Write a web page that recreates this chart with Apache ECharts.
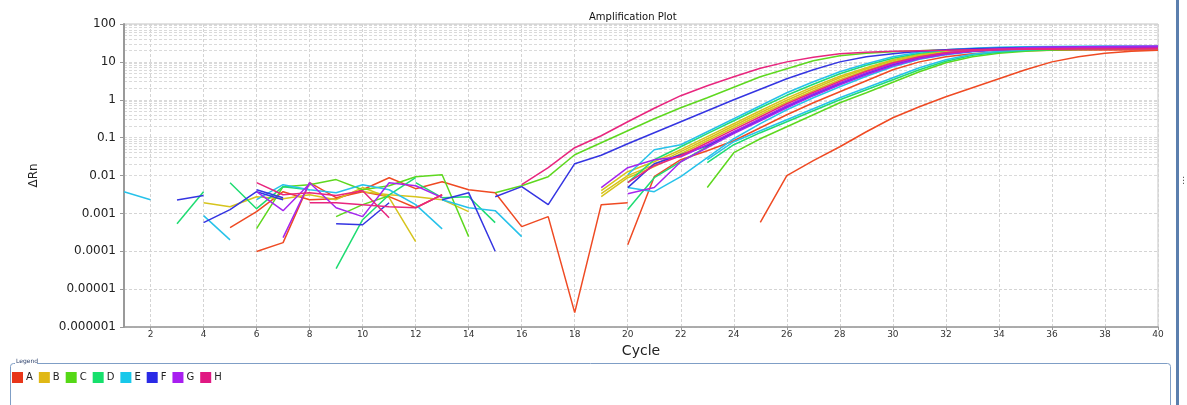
<!DOCTYPE html>
<html>
<head>
<meta charset="utf-8">
<script src="https://cdn.jsdelivr.net/npm/echarts@6/dist/echarts.min.js"></script>
<style>
html,body{margin:0;padding:0;background:#fff;}
#chart{width:1187px;height:405px;}
</style>
</head>
<body>
<div id="chart"></div>
<script>
// ---------- categories / tick labels ----------
const cycles = ['1','2','3','4','5','6','7','8','9','10','11','12','13','14','15','16','17','18','19','20',
                '21','22','23','24','25','26','27','28','29','30','31','32','33','34','35','36','37','38','39','40'];
const yTickLabels = ['0.000001','0.00001','0.0001','0.001','0.01','0.1','1','10','100'];
const wellNames = ['A','B','C','D','E','F','G','H'];

// ---------- series values (each fragment: first cycle + dRn values) ----------
// A (red)
const A_1 = {start:5,  values:[0.00042,0.00111,0.00374,0.0023,0.00244,0.0042,0.00875,0.00449,0.00686,0.0042,0.00352,0.000446,0.00082,0.0000024,0.0017,0.00191]};
const A_2 = {start:6,  values:[0.000098,0.000169,0.00645,0.0026,0.00374,0.00276,0.00141,0.00311]};
const A_3 = {start:20, values:[0.000149,0.0093,0.0261,0.0451,0.0828,0.182,0.402,0.834,1.63,3.17,6.2,10.0,13.6,16.4,18.5,19.6,20.2,20.5,20.7,20.7,20.7]};
const A_4 = {start:25, values:[0.00058,0.0099,0.0246,0.0575,0.143,0.335,0.654,1.2,2.07,3.58,6.2,10.0,13.6,16.9,19.0,20.2]};
// B (yellow)
const B_1 = {start:4,  values:[0.00191,0.0015,0.00276,0.00244,0.0031,0.0023,0.0048,0.0026,0.000179]};
const B_2 = {start:10, values:[0.00374,0.0031,0.00276,0.0023,0.00111]};
const B_3 = {start:19, values:[0.00397,0.0126,0.0231,0.048,0.106,0.233,0.513,1.1,2.2,4.17,6.99,11.4,15.9,19.0,20.9,22.2,22.8,23.1,23.3,23.4,23.6,23.6]};
const B_4 = {start:19, values:[0.0033,0.0099,0.0193,0.0425,0.0935,0.206,0.454,0.97,1.95,3.81,6.58,10.7,14.9,18.5,20.2,21.5,22.2,22.4,22.6,22.7,22.8,22.8]};
const B_5 = {start:19, values:[0.00276,0.00875,0.0171,0.0376,0.0828,0.182,0.402,0.859,1.73,3.37,6.0,10.0,14.5,17.9,19.6,20.9,21.5,21.9,22.2,22.2,22.2,22.2]};
// C (lime green)
const C_1 = {start:15, values:[0.00352,0.00538,0.0093,0.0354,0.0734,0.152,0.315,0.615,1.13,2.14,4.04,6.58,10.7,14.5,16.9,18.5,19.6,20.9,21.5,22.2,22.7,22.9,23.3,23.4,23.6,23.6]};
const C_2 = {start:6,  values:[0.000394,0.00507,0.00571,0.0078,0.0042,0.00538,0.0093,0.0105,0.000243]};
const C_3 = {start:9,  values:[0.00082,0.0017,0.00293]};
const C_4 = {start:23, values:[0.0048,0.04,0.0935,0.194,0.402,0.834,1.53,2.9,5.48,9.46,13.6,16.9,19.0,20.5,21.2,21.7,22.2,22.2]};
// D (spring green)
const D_1 = {start:3,  values:[0.000535,0.00374]};
const D_2 = {start:5,  values:[0.00646,0.00133,0.00507,0.0042]};
const D_3 = {start:9,  values:[0.0000347,0.00068,0.0031,0.00875]};
const D_4 = {start:12, values:[0.00646,0.0026,0.00276,0.00057]};
const D_5 = {start:20, values:[0.00646,0.0261,0.0575,0.127,0.279,0.615,1.31,2.56,4.85,8.13,12.4,16.9,20.2,22.2,23.6,24.3,24.6,24.7,24.9,25.0,25.0]};
const D_6 = {start:20, values:[0.00126,0.00875,0.0231,0.0575,0.135,0.297,0.654,1.31,2.56,4.71,8.13,12.4,16.4,19.0,20.9,21.9,22.6,22.9,23.3,23.6,23.6]};
const D_7 = {start:23, values:[0.0218,0.065,0.135,0.263,0.513,1.0,1.84,3.37,6.2,10.4,14.9,17.9,19.9,21.1,22.2,22.8,23.3,23.6]};
// E (cyan)
const E_1 = {start:1,  values:[0.00374,0.0023]};
const E_2 = {start:4,  values:[0.00087,0.0002]};
const E_3 = {start:6,  values:[0.0023,0.00571,0.0042,0.00352,0.00571,0.0042,0.0017,0.00039]};
const E_4 = {start:13, values:[0.0023,0.00141,0.00118,0.000243]};
const E_5 = {start:20, values:[0.0105,0.048,0.065,0.143,0.315,0.695,1.53,2.99,5.48,8.91,13.6,17.9,20.9,22.8,24.3,25.0,25.5,25.8,26.1,26.3,26.3]};
const E_6 = {start:20, values:[0.0048,0.00374,0.0093,0.0295,0.0935,0.233,0.545,1.13,2.2,4.17,7.43,11.7,15.4,18.5,20.5,21.7,22.7,23.3,23.6,23.8,24.2]};
const E_7 = {start:23, values:[0.0261,0.078,0.152,0.297,0.579,1.13,2.07,3.81,6.99,11.4,15.9,19.0,20.9,22.2,23.1,23.8,24.3,24.6]};
// F (blue)
const F_1 = {start:3,  values:[0.00227,0.00296]};
const F_2 = {start:4,  values:[0.00057,0.00126,0.00374,0.0023]};
const F_3 = {start:6,  values:[0.0042,0.0026]};
const F_4 = {start:9,  values:[0.000535,0.0005,0.00191]};
const F_5 = {start:13, values:[0.0023,0.00352,0.0001]};
const F_6 = {start:15, values:[0.00276,0.00507,0.0017,0.0205,0.0343,0.069,0.135,0.263,0.513,1.0,1.89,3.58,6.2,10.0,13.6,16.4,19.0,20.9,22.2,23.1,23.8,24.3,24.6,24.9,25.0,25.0]};
const F_7 = {start:20, values:[0.0048,0.0205,0.0354,0.0611,0.135,0.297,0.654,1.36,2.64,4.85,8.38,12.8,16.4,19.0,20.9,22.2,22.8,23.3,23.6,23.8,24.0]};
// G (purple)
const G_1 = {start:7,  values:[0.000229,0.00646,0.00141,0.00082,0.00646,0.00538,0.0026]};
const G_2 = {start:6,  values:[0.00374,0.00118,0.00608]};
const G_3 = {start:19, values:[0.0048,0.0161,0.0261,0.0313,0.065,0.143,0.315,0.695,1.44,2.81,5.15,8.91,13.2,17.4,20.2,22.2,23.6,24.6,25.0,25.5,25.8,26.1]};
const G_4 = {start:20, values:[0.0033,0.0048,0.0231,0.0542,0.127,0.279,0.615,1.28,2.49,4.57,7.89,12.1,15.9,19.0,20.9,22.2,23.1,23.8,24.3,24.6,24.7]};
// H (pink)
const H_1 = {start:6,  values:[0.00646,0.0031,0.00352,0.00296,0.00397,0.00077]};
const H_2 = {start:8,  values:[0.00191,0.00191,0.0017,0.0015,0.00141,0.0031]};
const H_3 = {start:16, values:[0.00571,0.0161,0.0542,0.112,0.263,0.597,1.28,2.34,4.04,6.78,10.0,13.2,16.4,17.9,19.0,19.6,20.2,20.9,21.5,21.9,22.2,22.4,22.6,22.7,22.8]};
const H_4 = {start:20, values:[0.00646,0.0181,0.0333,0.0734,0.162,0.356,0.784,1.58,3.08,5.65,9.46,13.6,17.4,19.6,20.9,21.5,21.7,21.9,21.9,21.9,21.9]};

const wellFragments = {
  A:[A_1,A_2,A_3,A_4], B:[B_1,B_2,B_3,B_4,B_5], C:[C_1,C_2,C_3,C_4], D:[D_1,D_2,D_3,D_4,D_5,D_6,D_7],
  E:[E_1,E_2,E_3,E_4,E_5,E_6,E_7], F:[F_1,F_2,F_3,F_4,F_5,F_6,F_7], G:[G_1,G_2,G_3,G_4], H:[H_1,H_2,H_3,H_4]
};

// ---------- styles ----------
const lineColors = {A:'#ef4a23',B:'#d6c41d',C:'#5ed81f',D:'#1fdc72',E:'#27c2ea',F:'#3535e2',G:'#a526ee',H:'#e8267e'};
const legendColors = {A:'#e8361a',B:'#e0b816',C:'#55d816',D:'#16e06c',E:'#18c8ea',F:'#2a2ae6',G:'#a81ef0',H:'#e01882'};
const FONT = 'DejaVu Sans';

// gridline values (log sub-divisions)
const gridY = [];
for (let e = -6; e <= 1; e++) {
  for (let k = 1; k <= 9; k++) {
    if (e === -6 && k === 1) continue;
    gridY.push({yAxis: k * Math.pow(10, e)});
  }
}

const series = [];
series.push({
  type:'line', name:'__grid', data:[], silent:true, z:0,
  markLine:{
    silent:true, symbol:['none','none'], animation:false, z:0,
    label:{show:false},
    emphasis:{disabled:true},
    lineStyle:{color:'#dadada', type:[3,2], width:1},
    data: gridY
  }
});
wellNames.forEach(w => {
  wellFragments[w].forEach(frag => {
    series.push({
      type:'line', name:w, z:10,
      showSymbol:false, symbol:'none',
      connectNulls:false,
      lineStyle:{width:1.5, color:lineColors[w]},
      itemStyle:{color:legendColors[w]},
      emphasis:{disabled:true},
      data: frag.values.map((v,i) => [frag.start - 1 + i, v])
    });
  });
});

const chart = echarts.init(document.getElementById('chart'), null, {renderer:'canvas'});
chart.setOption({
  animation:false,
  backgroundColor:'#ffffff',
  title:{
    text:'Amplification Plot', left:584, top:7,
    textStyle:{fontFamily:FONT, fontSize:10, fontWeight:'normal', color:'#111'}
  },
  grid:{left:124, right:29, top:24, bottom:78, show:true, borderColor:'#c4c4c4', borderWidth:1},
  legend:{
    data: wellNames.map(w => ({name:w, itemStyle:{color:legendColors[w]}})),
    left:12, top:372, padding:0, itemWidth:11, itemHeight:11, itemGap:6, icon:'rect',
    textStyle:{fontFamily:FONT, fontSize:10, color:'#222', padding:[0,0,0,-2]},
    selectedMode:false
  },
  xAxis:{
    type:'category', data:cycles, boundaryGap:false,
    name:'Cycle', nameLocation:'middle', nameGap:17,
    nameTextStyle:{fontFamily:FONT, fontSize:14, color:'#222'},
    axisLine:{lineStyle:{color:'#9a9a9a', width:1.5}},
    axisTick:{show:true, length:3, interval:(i)=> i % 2 === 1, lineStyle:{color:'#9a9a9a'}},
    axisLabel:{interval:(i)=> i % 2 === 1, fontFamily:FONT, fontSize:9, color:'#333', margin:3},
    splitLine:{show:true, interval:(i)=> i % 2 === 1, lineStyle:{color:'#d4d4d4', type:[3,2], width:1}}
  },
  yAxis:{
    type:'log', logBase:10, min:0.000001, max:100, interval:1,
    name:'\u0394Rn', nameLocation:'middle', nameGap:84, nameRotate:90,
    nameTextStyle:{fontFamily:FONT, fontSize:12, color:'#222'},
    axisLine:{show:true, lineStyle:{color:'#9a9a9a', width:2}},
    axisTick:{show:true, length:4, lineStyle:{color:'#9a9a9a'}},
    axisLabel:{fontFamily:FONT, fontSize:12, color:'#222', margin:8,
      formatter:(v)=> yTickLabels[Math.round(Math.log10(v)) + 6] || ''},
    splitLine:{show:true, lineStyle:{color:'#d4d4d4', type:[3,2], width:1}}
  },
  series: series,
  graphic:[
    {type:'rect', z:100, shape:{x:10.5, y:363.5, width:1160, height:60, r:3},
      style:{fill:'none', stroke:'#7f9ec6', lineWidth:1}},
    {type:'rect', z:101, shape:{x:15, y:359, width:22, height:8}, style:{fill:'#ffffff'}},
    {type:'text', z:102, left:16, top:358,
      style:{text:'Legend', font:'6px "DejaVu Sans"', fill:'#2a3f6a'}},
    {type:'rect', z:100, shape:{x:1176, y:0, width:3, height:405}, style:{fill:'#5b7fae'}},
    {type:'text', z:100, left:1179, top:176, style:{text:'\u22ee', font:'9px "DejaVu Sans"', fill:'#555'}}
  ]
});
</script>
</body>
</html>
